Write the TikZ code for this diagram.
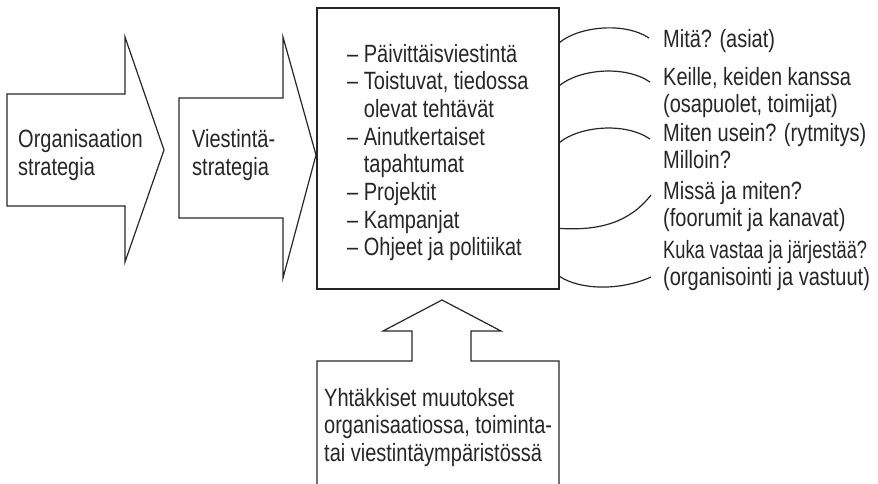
\documentclass[tikz,border=0pt]{standalone}
\usepackage{fontspec}
\setmainfont{Liberation Sans}[FakeStretch=0.8]
\newfontfamily\tightfont{Liberation Sans}[FakeStretch=0.73]
% stacked lines with a fixed baseline distance; the block's baseline is its first line
\newcommand\tlines[2]{\vtop{\baselineskip=#1pt\lineskiplimit=-100pt\lineskip=0pt #2}}
\begin{document}
\begin{tikzpicture}[x=1pt,y=-1pt,
  outline/.style={draw=black!85, line width=1.2pt, line join=miter},
  link/.style={draw=black!85, line width=1.2pt},
  txt/.style={anchor=base west, inner sep=0pt, text=black!85,
              font=\fontsize{25}{28}\selectfont}]
\useasboundingbox (0,0) rectangle (878,483);

% strategy arrows
\draw[outline] (7,94) -- (125,94) -- (125,37) -- (164,150) -- (125,262)
  -- (125,206) -- (7,206) -- cycle;
\node[txt] (orgstr) at (18,147) {\tlines{28.3}{\hbox{Organisaation}\hbox{strategia}}};

\draw[outline] (179,98) -- (283,98) -- (283,37) -- (316,155) -- (283,278)
  -- (283,218) -- (179,218) -- cycle;
\node[txt] (viestr) at (192,147) {\tlines{28.3}{\hbox{Viestintä-}\hbox{strategia}}};

% central box with its list
\node[outline, minimum width=242pt, minimum height=281pt, inner sep=0pt] (main) at (438,148.5) {};
\node[txt] (list) at (347,62) {\tlines{27.7}{%
  \hbox{– Päivittäisviestintä}%
  \hbox{– Toistuvat, tiedossa}%
  \hbox{\hphantom{– }olevat tehtävät}%
  \hbox{– Ainutkertaiset}%
  \hbox{\hphantom{– }tapahtumat}%
  \hbox{– Projektit}%
  \hbox{– Kampanjat}%
  \hbox{– Ohjeet ja politiikat}}};

% upward arrow and the box of sudden changes below it
\draw[outline] (317,486) -- (317,361) -- (412,361) -- (412,331) -- (383,331)
  -- (442,300) -- (501,331) -- (471,331) -- (471,361) -- (559,361) -- (559,486);
\node[txt] (change) at (324,406) {\tlines{27.7}{%
  \hbox{Yhtäkkiset muutokset}%
  \hbox{organisaatiossa, toiminta-}%
  \hbox{tai viestintäympäristössä}}};

% questions on the right
\node[txt] (q1) at (663,47) {Mitä? (asiat)};
\node[txt] (q2) at (663,85) {\tlines{27.5}{\hbox{Keille, keiden kanssa}\hbox{(osapuolet, toimijat)}}};
\node[txt] (q3) at (663,141) {\tlines{27}{\hbox{Miten usein? (rytmitys)}\hbox{Milloin?}}};
\node[txt] (q4) at (663,199) {\tlines{27.3}{\hbox{Missä ja miten?}\hbox{(foorumit ja kanavat)}}};
\node[txt] (q5) at (663,258) {\tlines{27.3}{\hbox{\tightfont Kuka vastaa ja järjestää?}\hbox{(organisointi ja vastuut)}}};

% free ends of the curved links, just left of each question
\coordinate (e1) at (649,38);
\coordinate (e2) at (650,82);
\coordinate (e3) at (650,139);
\coordinate (e4) at (651,195);
\coordinate (e5) at (651,277);

\draw[link] ([yshift=-35pt]main.north east) .. controls (580,26) and (625,22) .. (e1);
\draw[link] ([yshift=-78pt]main.north east) .. controls (580,69) and (625,65) .. (e2);
\draw[link] ([yshift=-135pt]main.north east) .. controls (580,126) and (625,122) .. (e3);
\draw[link] ([yshift=-221pt]main.north east) .. controls (600,231) and (630,222) .. (e4);
\draw[link] ([yshift=-269pt]main.north east) .. controls (580,290) and (620,291) .. (e5);
\end{tikzpicture}
\end{document}
